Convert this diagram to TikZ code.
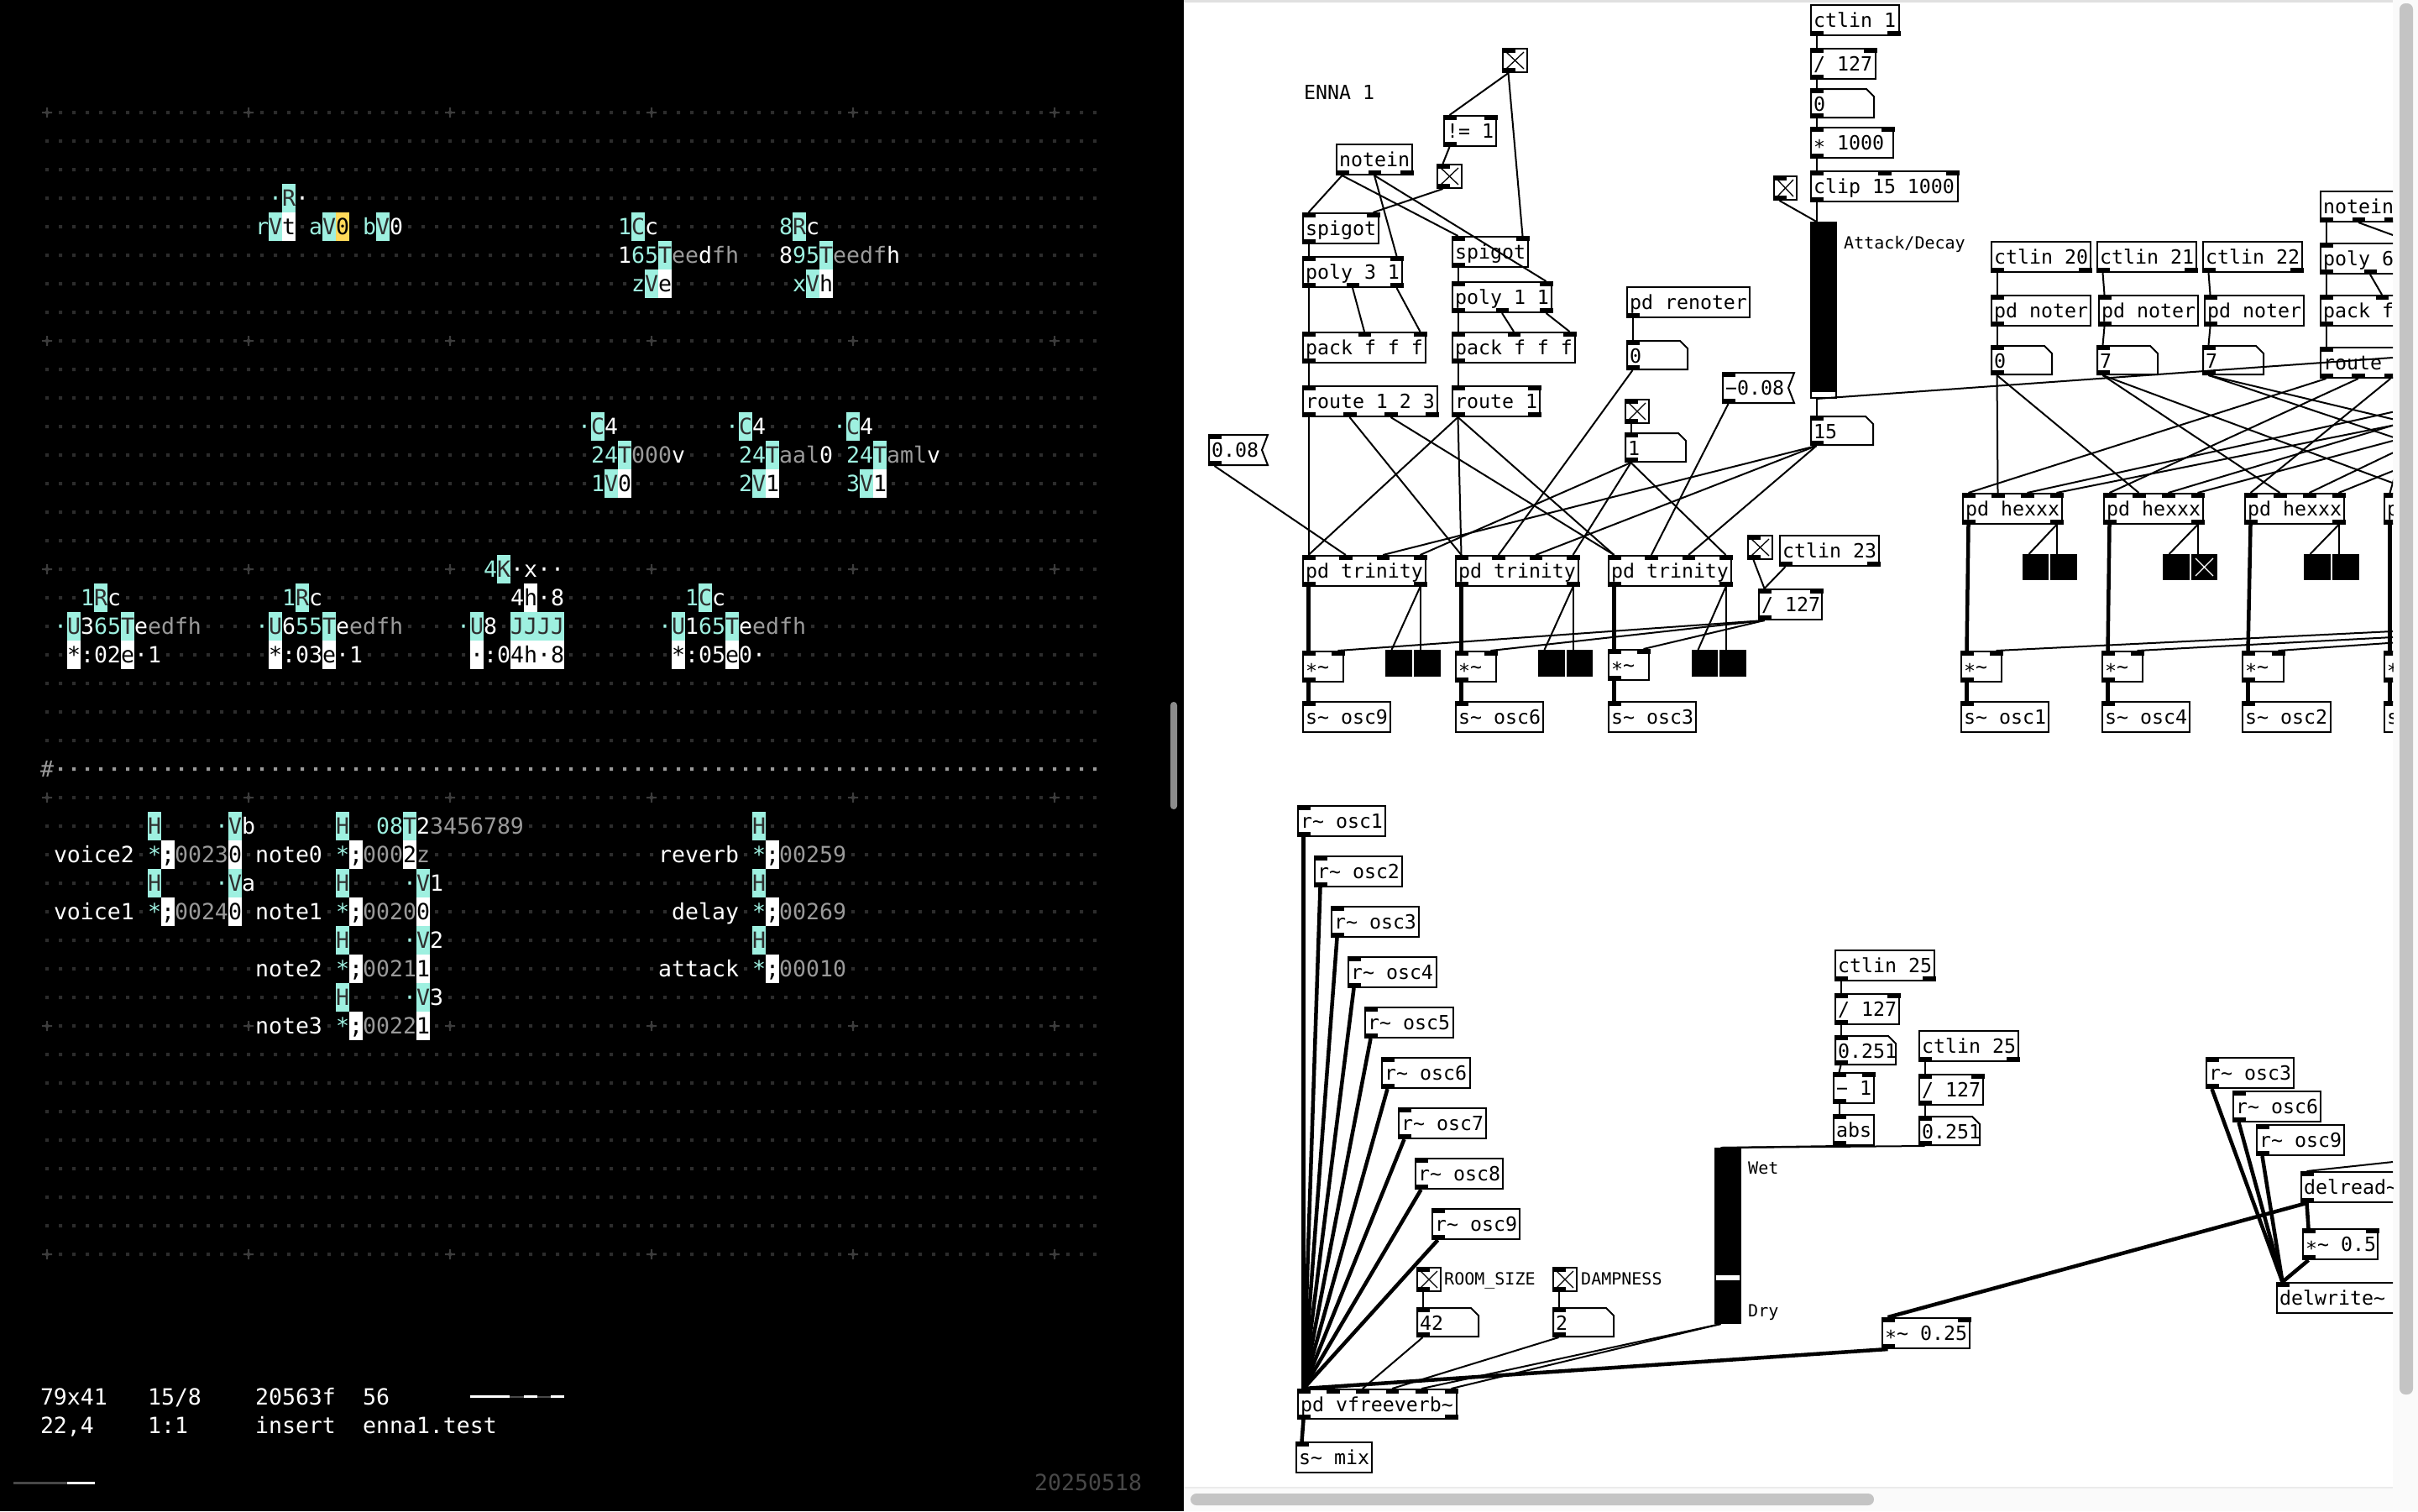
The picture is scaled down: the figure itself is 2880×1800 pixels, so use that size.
\documentclass[tikz,border=0pt]{standalone}
\usepackage{fontspec}
\newfontfamily\orcafont{DejaVu Sans Mono}
\definecolor{orcateal}{HTML}{9EF0E0}
\definecolor{orcadark}{HTML}{2E2E2E}
\definecolor{orcagrey}{HTML}{9A9A9A}
\definecolor{orcayellow}{HTML}{FFD95A}
\definecolor{griddim}{HTML}{2C2C2C}
\definecolor{gridplus}{HTML}{3C3C3C}
\definecolor{orcadate}{HTML}{484848}
\definecolor{barthumb}{HTML}{C4C4C4}
\definecolor{bartrack}{HTML}{FAFAFA}
\newcommand{\wave}{\textasciitilde}
\newcommand{\pdstar}{\raisebox{-5pt}{*}}
% one run of orca cells
\newcommand{\orun}[4]{\node[orcacell,#1] (cell-#2-#3) at (48+16*#2,117+34*#3) {#4};}
% iolets: name, left, top, right, bottom, inlets, outlets
\newcommand{\pdiolets}[7]{%
\ifnum#6>0 \foreach \k in {1,...,#6}{%
\pgfmathsetmacro{\ioX}{#2+(\k-1)*(#4-#2-15)/max(#6-1,1)}
\fill (\ioX,#3) rectangle ++(15.5,6);
\coordinate (#1-i\k) at (\ioX+7.5,#3);}\fi
\ifnum#7>0 \foreach \k in {1,...,#7}{%
\pgfmathsetmacro{\ioX}{#2+(\k-1)*(#4-#2-15)/max(#7-1,1)}
\fill (\ioX,#5-6) rectangle ++(15.5,6);
\coordinate (#1-o\k) at (\ioX+7.5,#5);}\fi}
% object box: name, left, top, right, bottom, text, inlets, outlets
\newcommand{\pdbox}[8]{%
\pgfmathsetlengthmacro{\pdW}{#4-#2-8}
\pgfmathsetlengthmacro{\pdD}{#5-#3-28}
\node[pdtext,draw,text depth=\pdD] (#1) at (#2+1,#3+1) {\makebox[\pdW][l]{#6}};
\pdiolets{#1}{#2}{#3}{#4}{#5}{#7}{#8}}
% number box with the cut corner
\newcommand{\pdnum}[6]{%
\pgfmathsetlengthmacro{\pdW}{#4-#2-8}
\pgfmathsetlengthmacro{\pdD}{#5-#3-28}
\node[pdtext,text depth=\pdD] (#1) at (#2+1,#3+1) {\makebox[\pdW][l]{#6}};
\draw[pdline] (#2+1,#3+1) -- (#4-10,#3+1) -- (#4-1,#3+10) -- (#4-1,#5-1) -- (#2+1,#5-1) -- cycle;
\pdiolets{#1}{#2}{#3}{#4}{#5}{1}{1}}
% flag shaped number
\newcommand{\pdflag}[6]{%
\pgfmathsetlengthmacro{\pdW}{#4-#2-16}
\pgfmathsetlengthmacro{\pdD}{#5-#3-28}
\node[pdtext,text depth=\pdD] (#1) at (#2+1,#3+1) {\makebox[\pdW][l]{#6}};
\draw[pdline] (#2+1,#3+1) -- (#4,#3+1) -- (#4-7,{(#3+#5)/2}) -- (#4,#5-1) -- (#2+1,#5-1) -- cycle;
\pdiolets{#1}{#2}{#3}{#4}{#5}{1}{1}}
% toggle
\newcommand{\pdtog}[5]{%
\node[pdshape,draw,minimum width=#4-#2-2,minimum height=#5-#3-2] (#1) at (#2+1,#3+1) {};
\draw[pdcross] (#2+5,#3+5) -- (#4-5,#5-5) (#2+5,#5-5) -- (#4-5,#3+5);
\pdiolets{#1}{#2}{#3}{#4}{#5}{1}{1}}
% black square
\newcommand{\pdblk}[5]{%
\node[pdshape,fill=black,minimum width=#4-#2,minimum height=#5-#3] (#1) at (#2,#3) {};
\coordinate (#1-i1) at (#2+7.5,#3);}
% slider
\newcommand{\pdslider}[6]{%
\node[pdshape,fill=black,minimum width=#4-#2,minimum height=#5-#3] (#1) at (#2,#3) {};
\fill[white] (#2+2,#6) rectangle (#4-2,#6+6);
\coordinate (#1-i1) at (#2+7.5,#3);
\coordinate (#1-o1) at (#2+7.5,#5);}

\begin{document}
\begin{tikzpicture}[x=1pt,y=-1pt]
\tikzstyle{orcacell}=[anchor=north west,inner sep=0pt,outer sep=0pt,text height=26pt,text depth=8pt,font=\orcafont\fontsize{26.576}{34}\selectfont]
\tikzstyle{ow}=[fill=black,text=white]
\tikzstyle{ot}=[fill=black,text=orcateal]
\tikzstyle{og}=[fill=black,text=orcagrey]
\tikzstyle{obt}=[fill=orcateal,text=orcadark]
\tikzstyle{obw}=[fill=white,text=black]
\tikzstyle{oby}=[fill=orcayellow,text=black]
\tikzstyle{pdtext}=[anchor=north west,inner xsep=3pt,inner ysep=0pt,outer sep=0pt,line width=2pt,text height=26pt,font=\orcafont\fontsize{23.25}{28}\selectfont]
\tikzstyle{pdshape}=[anchor=north west,inner sep=0pt,outer sep=0pt,line width=2pt]
\tikzstyle{pdline}=[line width=2pt,line join=miter]
\tikzstyle{pdcross}=[line width=1.3pt]
\tikzstyle{pdlabel}=[anchor=base west,inner sep=0pt,font=\orcafont\fontsize{20}{24}\selectfont]
\tikzstyle{pdtitle}=[anchor=base west,inner sep=0pt,font=\orcafont\fontsize{23.25}{28}\selectfont]
\tikzstyle{msgwire}=[line width=2pt]
\tikzstyle{sigwire}=[line width=4.5pt]
\useasboundingbox (0,0) rectangle (2880,1800);
%%%%%%%%%%%%%%%%%%%%%%%%%%%%%%%%%%%%%%%%%%%%%%%%%%%%%%%%%%%%%%%%%%%%%%%%%%%%%%%%%%%%%%%%
%% Panes
%%%%%%%%%%%%%%%%%%%%%%%%%%%%%%%%%%%%%%%%%%%%%%%%%%%%%%%%%%%%%%%%%%%%%%%%%%%%%%%%%%%%%%%%
\fill[black] (0,0) rectangle (1410,1800);
\fill[white] (1410,0) rectangle (2880,1800);
\fill[black!12] (1410,0) rectangle (2880,3);
\fill[bartrack] (2850,0) rectangle (2880,1800);
\fill[bartrack] (1410,1771) rectangle (2880,1800);
\fill[black!8] (1410,1771) rectangle (2850,1773);
\fill[barthumb,rounded corners=7pt] (2858,4) rectangle (2874,1661);
\fill[barthumb,rounded corners=7pt] (1418,1779) rectangle (2232,1793);
\fill[black!45,rounded corners=3.9pt] (1394,836) rectangle (1402,964);
%%%%%%%%%%%%%%%%%%%%%%%%%%%%%%%%%%%%%%%%%%%%%%%%%%%%%%%%%%%%%%%%%%%%%%%%%%%%%%%%%%%%%%%%
%% Orca grid
%%%%%%%%%%%%%%%%%%%%%%%%%%%%%%%%%%%%%%%%%%%%%%%%%%%%%%%%%%%%%%%%%%%%%%%%%%%%%%%%%%%%%%%%
\fill[griddim] \foreach \r in {0,...,40} {\foreach \c in {0,...,78} {(54+16*\c,132+34*\r) rectangle ++(4,4)}};
\fill[orcagrey] \foreach \c in {1,...,78} {(54+16*\c,914) rectangle ++(4,4)};
\fill[gridplus] \foreach \r in {0,8,16,24,32,40} {\foreach \c in {0,15,30,45,60,75} {(50+16*\c,133+34*\r) rectangle ++(12,2) (55+16*\c,128+34*\r) rectangle ++(2,12)}};
% operators, top
\orun{ot}{17}{3}{·}
\orun{obt}{18}{3}{R}
\orun{ow}{19}{3}{·}
\orun{ot}{16}{4}{r}
\orun{obt}{17}{4}{V}
\orun{obw}{18}{4}{t}
\orun{ot}{20}{4}{a}
\orun{obt}{21}{4}{V}
\orun{oby}{22}{4}{0}
\orun{ot}{24}{4}{b}
\orun{obt}{25}{4}{V}
\orun{ow}{26}{4}{0}
\orun{ot}{43}{4}{1}
\orun{obt}{44}{4}{C}
\orun{ow}{45}{4}{c}
\orun{ot}{55}{4}{8}
\orun{obt}{56}{4}{R}
\orun{ow}{57}{4}{c}
\orun{ow}{43}{5}{1}
\orun{ot}{44}{5}{65}
\orun{obt}{46}{5}{T}
\orun{og}{47}{5}{ee}
\orun{ow}{49}{5}{d}
\orun{og}{50}{5}{fh}
\orun{ow}{55}{5}{8}
\orun{ot}{56}{5}{95}
\orun{obt}{58}{5}{T}
\orun{og}{59}{5}{eedf}
\orun{ow}{63}{5}{h}
\orun{ot}{44}{6}{z}
\orun{obt}{45}{6}{V}
\orun{obw}{46}{6}{e}
\orun{ot}{56}{6}{x}
\orun{obt}{57}{6}{V}
\orun{obw}{58}{6}{h}
% clock row
\orun{ot}{40}{11}{·}
\orun{obt}{41}{11}{C}
\orun{ow}{42}{11}{4}
\orun{ot}{51}{11}{·}
\orun{obt}{52}{11}{C}
\orun{ow}{53}{11}{4}
\orun{ot}{59}{11}{·}
\orun{obt}{60}{11}{C}
\orun{ow}{61}{11}{4}
\orun{ot}{41}{12}{24}
\orun{obt}{43}{12}{T}
\orun{og}{44}{12}{000}
\orun{ow}{47}{12}{v}
\orun{ot}{52}{12}{24}
\orun{obt}{54}{12}{T}
\orun{og}{55}{12}{aal}
\orun{ow}{58}{12}{0}
\orun{ot}{60}{12}{24}
\orun{obt}{62}{12}{T}
\orun{og}{63}{12}{aml}
\orun{ow}{66}{12}{v}
\orun{ot}{41}{13}{1}
\orun{obt}{42}{13}{V}
\orun{obw}{43}{13}{0}
\orun{ot}{52}{13}{2}
\orun{obt}{53}{13}{V}
\orun{obw}{54}{13}{1}
\orun{ot}{60}{13}{3}
\orun{obt}{61}{13}{V}
\orun{obw}{62}{13}{1}
% midi row
\orun{ot}{33}{16}{4}
\orun{obt}{34}{16}{K}
\orun{ow}{35}{16}{·x··}
\orun{ot}{3}{17}{1}
\orun{obt}{4}{17}{R}
\orun{ow}{5}{17}{c}
\orun{ot}{18}{17}{1}
\orun{obt}{19}{17}{R}
\orun{ow}{20}{17}{c}
\orun{ow}{35}{17}{4}
\orun{obw}{36}{17}{h}
\orun{ow}{37}{17}{·8}
\orun{ot}{48}{17}{1}
\orun{obt}{49}{17}{C}
\orun{ow}{50}{17}{c}
\orun{ot}{1}{18}{·}
\orun{obt}{2}{18}{U}
\orun{ow}{3}{18}{3}
\orun{ot}{4}{18}{65}
\orun{obt}{6}{18}{T}
\orun{ow}{7}{18}{e}
\orun{og}{8}{18}{edfh}
\orun{ot}{16}{18}{·}
\orun{obt}{17}{18}{U}
\orun{ow}{18}{18}{6}
\orun{ot}{19}{18}{55}
\orun{obt}{21}{18}{T}
\orun{ow}{22}{18}{e}
\orun{og}{23}{18}{edfh}
\orun{ot}{31}{18}{·}
\orun{obt}{32}{18}{U}
\orun{ow}{33}{18}{8}
\orun{obt}{35}{18}{JJJJ}
\orun{ot}{46}{18}{·}
\orun{obt}{47}{18}{U}
\orun{ow}{48}{18}{1}
\orun{ot}{49}{18}{65}
\orun{obt}{51}{18}{T}
\orun{ow}{52}{18}{e}
\orun{og}{53}{18}{edfh}
\orun{obw}{2}{19}{*}
\orun{ow}{3}{19}{:02}
\orun{obw}{6}{19}{e}
\orun{ow}{7}{19}{·1}
\orun{obw}{17}{19}{*}
\orun{ow}{18}{19}{:03}
\orun{obw}{21}{19}{e}
\orun{ow}{22}{19}{·1}
\orun{obw}{32}{19}{·}
\orun{ow}{33}{19}{:0}
\orun{obw}{35}{19}{4h·8}
\orun{obw}{47}{19}{*}
\orun{ow}{48}{19}{:05}
\orun{obw}{51}{19}{e}
\orun{ow}{52}{19}{0·}
% comment row
\orun{og}{0}{23}{\#}
% voices and notes
\orun{obt}{8}{25}{H}
\orun{ot}{13}{25}{·}
\orun{obt}{14}{25}{V}
\orun{ow}{15}{25}{b}
\orun{obt}{22}{25}{H}
\orun{ot}{25}{25}{08}
\orun{obt}{27}{25}{T}
\orun{ow}{28}{25}{2}
\orun{og}{29}{25}{3456789}
\orun{obt}{53}{25}{H}
\orun{ow}{1}{26}{voice2}
\orun{ot}{8}{26}{*}
\orun{obw}{9}{26}{;}
\orun{og}{10}{26}{0023}
\orun{obw}{14}{26}{0}
\orun{ow}{16}{26}{note0}
\orun{ot}{22}{26}{*}
\orun{obw}{23}{26}{;}
\orun{og}{24}{26}{000}
\orun{obw}{27}{26}{2}
\orun{og}{28}{26}{z}
\orun{ow}{46}{26}{reverb}
\orun{ot}{53}{26}{*}
\orun{obw}{54}{26}{;}
\orun{og}{55}{26}{00259}
\orun{obt}{8}{27}{H}
\orun{ot}{13}{27}{·}
\orun{obt}{14}{27}{V}
\orun{ow}{15}{27}{a}
\orun{obt}{22}{27}{H}
\orun{ot}{27}{27}{·}
\orun{obt}{28}{27}{V}
\orun{ow}{29}{27}{1}
\orun{obt}{53}{27}{H}
\orun{ow}{1}{28}{voice1}
\orun{ot}{8}{28}{*}
\orun{obw}{9}{28}{;}
\orun{og}{10}{28}{0024}
\orun{obw}{14}{28}{0}
\orun{ow}{16}{28}{note1}
\orun{ot}{22}{28}{*}
\orun{obw}{23}{28}{;}
\orun{og}{24}{28}{0020}
\orun{obw}{28}{28}{0}
\orun{ow}{47}{28}{delay}
\orun{ot}{53}{28}{*}
\orun{obw}{54}{28}{;}
\orun{og}{55}{28}{00269}
\orun{obt}{22}{29}{H}
\orun{ot}{27}{29}{·}
\orun{obt}{28}{29}{V}
\orun{ow}{29}{29}{2}
\orun{obt}{53}{29}{H}
\orun{ow}{16}{30}{note2}
\orun{ot}{22}{30}{*}
\orun{obw}{23}{30}{;}
\orun{og}{24}{30}{0021}
\orun{obw}{28}{30}{1}
\orun{ow}{46}{30}{attack}
\orun{ot}{53}{30}{*}
\orun{obw}{54}{30}{;}
\orun{og}{55}{30}{00010}
\orun{obt}{22}{31}{H}
\orun{ot}{27}{31}{·}
\orun{obt}{28}{31}{V}
\orun{ow}{29}{31}{3}
\orun{ow}{16}{32}{note3}
\orun{ot}{22}{32}{*}
\orun{obw}{23}{32}{;}
\orun{og}{24}{32}{0022}
\orun{obw}{28}{32}{1}
% status lines
\orun{ow}{0}{45}{79x41}
\orun{ow}{8}{45}{15/8}
\orun{ow}{16}{45}{20563f}
\orun{ow}{24}{45}{56}
\orun{ow}{0}{46}{22,4}
\orun{ow}{8}{46}{1:1}
\orun{ow}{16}{46}{insert}
\orun{ow}{24}{46}{enna1.test}
\orun{fill=black,text=orcadate}{74}{48}{20250518}
\fill[orcadate] (560,1663) rectangle (672,1665);
\fill[white] (560,1662) rectangle (607,1665);
\fill[white] (624,1662) rectangle (640,1665);
\fill[white] (656,1662) rectangle (672,1665);
\fill[orcadate] (16,1765) rectangle (80,1768);
\fill[white] (80,1765) rectangle (113,1768);
%%%%%%%%%%%%%%%%%%%%%%%%%%%%%%%%%%%%%%%%%%%%%%%%%%%%%%%%%%%%%%%%%%%%%%%%%%%%%%%%%%%%%%%%
%% Pd patch
%%%%%%%%%%%%%%%%%%%%%%%%%%%%%%%%%%%%%%%%%%%%%%%%%%%%%%%%%%%%%%%%%%%%%%%%%%%%%%%%%%%%%%%%
\begin{scope}
\clip (1410,0) rectangle (2850,1771);
% voice allocation
\node[pdtitle] (titleEnna) at (1553,118) {ENNA 1};
\pdtog{togTop}{1789}{57}{1820}{87}
\pdbox{neqOne}{1719}{137}{1783}{175}{!= 1}{2}{1}
\pdbox{noteinA}{1591}{171}{1683}{209}{notein}{0}{3}
\pdtog{togGate}{1711}{195}{1742}{225}
\pdbox{spigotA}{1551}{253}{1643}{291}{spigot}{2}{1}
\pdbox{spigotB}{1729}{281}{1821}{319}{spigot}{2}{1}
\pdbox{polyA}{1551}{305}{1671}{343}{poly 3 1}{2}{3}
\pdbox{polyB}{1729}{335}{1849}{373}{poly 1 1}{2}{3}
\pdbox{packA}{1551}{395}{1699}{433}{pack f f f}{3}{1}
\pdbox{packB}{1729}{395}{1877}{433}{pack f f f}{3}{1}
\pdbox{routeA}{1551}{459}{1713}{497}{route 1 2 3}{1}{4}
\pdbox{routeB}{1729}{459}{1835}{497}{route 1}{2}{2}
\pdbox{renoter}{1937}{341}{2085}{379}{pd renoter}{0}{1}
\pdnum{numRenoter}{1937}{405}{2011}{441}{0}
\pdflag{flagNeg}{2051}{443}{2137}{481}{−0.08}
\pdflag{flagPos}{1439}{517}{1510}{555}{0.08}
\pdtog{togOne}{1935}{475}{1965}{505}
\pdnum{numOne}{1935}{515}{2009}{551}{1}
% attack and decay
\pdbox{ctlinOne}{2156}{5}{2263}{43}{ctlin 1}{0}{2}
\pdbox{divA}{2156}{57}{2235}{95}{/ 127}{2}{1}
\pdnum{numZero}{2156}{105}{2233}{141}{0}
\pdbox{timesK}{2156}{151}{2256}{189}{\pdstar{} 1000}{2}{1}
\pdbox{clipA}{2156}{203}{2333}{241}{clip 15 1000}{3}{1}
\pdtog{togClip}{2112}{209}{2141}{239}
\pdslider{sliderAttack}{2156}{264}{2188}{475}{467}
\node[pdlabel] (lblAttack) at (2196,296) {Attack/Decay};
\pdnum{numFifteen}{2156}{495}{2232}{531}{15}
% trinity voices
\pdbox{trinityA}{1551}{661}{1699}{699}{pd trinity}{4}{2}
\pdbox{trinityB}{1733}{661}{1881}{699}{pd trinity}{4}{2}
\pdbox{trinityC}{1915}{661}{2063}{699}{pd trinity}{4}{2}
\pdtog{togLevel}{2081}{637}{2112}{667}
\pdbox{ctlinLevel}{2119}{637}{2239}{675}{ctlin 23}{0}{2}
\pdbox{divB}{2094}{701}{2171}{739}{/ 127}{2}{1}
\pdbox{mulA}{1551}{775}{1601}{813}{\pdstar\wave}{2}{1}
\pdbox{mulB}{1733}{775}{1783}{813}{\pdstar\wave}{2}{1}
\pdbox{mulC}{1915}{773}{1965}{811}{\pdstar\wave}{2}{1}
\pdblk{blkA}{1650}{774}{1682}{806}
\pdblk{blkB}{1684}{774}{1716}{806}
\pdblk{blkC}{1832}{774}{1864}{806}
\pdblk{blkD}{1866}{774}{1897}{806}
\pdblk{blkE}{2015}{774}{2046}{806}
\pdblk{blkF}{2048}{774}{2080}{806}
\pdbox{sendNine}{1551}{835}{1657}{873}{s\wave{} osc9}{1}{0}
\pdbox{sendSix}{1733}{835}{1839}{873}{s\wave{} osc6}{1}{0}
\pdbox{sendThree}{1915}{835}{2021}{873}{s\wave{} osc3}{1}{0}
% hexxx voices
\pdbox{ctlinTwenty}{2371}{287}{2491}{325}{ctlin 20}{0}{2}
\pdbox{ctlinTwentyOne}{2497}{287}{2617}{325}{ctlin 21}{0}{2}
\pdbox{ctlinTwentyTwo}{2623}{287}{2743}{325}{ctlin 22}{0}{2}
\pdbox{noterA}{2371}{351}{2491}{389}{pd noter}{1}{1}
\pdbox{noterB}{2499}{351}{2619}{389}{pd noter}{1}{1}
\pdbox{noterC}{2625}{351}{2745}{389}{pd noter}{1}{1}
\pdnum{numNoterA}{2371}{411}{2445}{447}{0}
\pdnum{numNoterB}{2497}{411}{2571}{447}{7}
\pdnum{numNoterC}{2623}{411}{2697}{447}{7}
\pdbox{noteinB}{2763}{227}{2855}{265}{notein}{0}{3}
\pdbox{polyC}{2763}{289}{2883}{327}{poly 6}{2}{3}
\pdbox{packC}{2763}{351}{2911}{389}{pack f}{3}{1}
\pdbox{routeC}{2763}{413}{3008}{451}{route}{1}{7}
\pdbox{hexxxA}{2337}{587}{2457}{625}{pd hexxx}{4}{2}
\pdbox{hexxxB}{2505}{587}{2625}{625}{pd hexxx}{4}{2}
\pdbox{hexxxC}{2673}{587}{2793}{625}{pd hexxx}{4}{2}
\pdbox{hexxxD}{2839}{587}{2959}{625}{p}{4}{2}
\pdblk{blkG}{2409}{660}{2440}{691}
\pdblk{blkH}{2442}{660}{2474}{691}
\pdblk{blkI}{2576}{660}{2608}{691}
\pdblk{blkJ}{2610}{660}{2641}{691}
\draw[white,pdcross] (2615,665) -- (2636,686) (2615,686) -- (2636,665);
\pdblk{blkK}{2744}{660}{2776}{691}
\pdblk{blkL}{2778}{660}{2810}{691}
\pdbox{mulD}{2335}{775}{2385}{813}{\pdstar\wave}{2}{1}
\pdbox{mulE}{2503}{775}{2553}{813}{\pdstar\wave}{2}{1}
\pdbox{mulF}{2670}{775}{2721}{813}{\pdstar\wave}{2}{1}
\pdbox{mulG}{2839}{775}{2889}{813}{\pdstar}{2}{1}
\pdbox{sendOne}{2335}{835}{2441}{873}{s\wave{} osc1}{1}{0}
\pdbox{sendFour}{2503}{835}{2609}{873}{s\wave{} osc4}{1}{0}
\pdbox{sendTwo}{2670}{835}{2777}{873}{s\wave{} osc2}{1}{0}
\pdbox{sendLast}{2839}{835}{2945}{873}{s}{1}{0}
% reverb
\pdbox{recvOne}{1545}{959}{1651}{997}{r\wave{} osc1}{1}{1}
\pdbox{recvTwo}{1565}{1019}{1671}{1057}{r\wave{} osc2}{1}{1}
\pdbox{recvThree}{1585}{1079}{1691}{1117}{r\wave{} osc3}{1}{1}
\pdbox{recvFour}{1605}{1139}{1712}{1177}{r\wave{} osc4}{1}{1}
\pdbox{recvFive}{1625}{1199}{1732}{1237}{r\wave{} osc5}{1}{1}
\pdbox{recvSix}{1645}{1259}{1752}{1297}{r\wave{} osc6}{1}{1}
\pdbox{recvSeven}{1665}{1319}{1771}{1357}{r\wave{} osc7}{1}{1}
\pdbox{recvEight}{1685}{1379}{1791}{1417}{r\wave{} osc8}{1}{1}
\pdbox{recvNine}{1705}{1439}{1811}{1477}{r\wave{} osc9}{1}{1}
\pdtog{togRoom}{1687}{1509}{1717}{1539}
\node[pdlabel] (lblRoom) at (1720,1530) {ROOM\_SIZE};
\pdtog{togDamp}{1849}{1509}{1879}{1539}
\node[pdlabel] (lblDamp) at (1883,1530) {DAMPNESS};
\pdnum{numRoom}{1687}{1557}{1762}{1593}{42}
\pdnum{numDamp}{1849}{1557}{1923}{1593}{2}
\pdbox{freeverb}{1545}{1654}{1736}{1691}{pd vfreeverb\wave}{6}{2}
\pdbox{sendMix}{1543}{1717}{1635}{1755}{s\wave{} mix}{1}{0}
\pdbox{ctlinWetA}{2185}{1131}{2305}{1169}{ctlin 25}{0}{2}
\pdbox{divWetA}{2185}{1183}{2263}{1221}{/ 127}{2}{1}
\pdnum{numWetA}{2185}{1233}{2259}{1269}{0.251}
\pdbox{minusOne}{2183}{1277}{2233}{1315}{− 1}{2}{1}
\pdbox{absWet}{2183}{1327}{2233}{1365}{abs}{1}{1}
\pdbox{ctlinWetB}{2285}{1227}{2405}{1265}{ctlin 25}{0}{2}
\pdbox{divWetB}{2285}{1279}{2363}{1317}{/ 127}{2}{1}
\pdnum{numWetB}{2285}{1329}{2359}{1365}{0.251}
\pdslider{sliderWet}{2042}{1367}{2074}{1577}{1519}
\node[pdlabel] (lblWet) at (2082,1398) {Wet};
\node[pdlabel] (lblDry) at (2082,1568) {Dry};
\pdbox{mulDry}{2241}{1569}{2347}{1607}{\pdstar\wave{} 0.25}{2}{1}
% delay
\pdbox{recvDelA}{2627}{1259}{2733}{1297}{r\wave{} osc3}{1}{1}
\pdbox{recvDelB}{2659}{1299}{2765}{1337}{r\wave{} osc6}{1}{1}
\pdbox{recvDelC}{2687}{1339}{2793}{1377}{r\wave{} osc9}{1}{1}
\pdbox{delread}{2740}{1395}{2900}{1433}{delread\wave}{1}{1}
\pdbox{mulHalf}{2742}{1463}{2833}{1501}{\pdstar\wave{} 0.5}{2}{1}
\pdbox{delwrite}{2711}{1527}{2900}{1565}{delwrite\wave}{1}{0}
%%%%%%%%%%%%%%%%%%%%%%%%%%%%%%%%%%%%%%%%%%%%%%%%%%%%%%%%%%%%%%%%%%%%%%%%%%%%%%%%%%%%%%%%
%%% Draw connections
%%%%%%%%%%%%%%%%%%%%%%%%%%%%%%%%%%%%%%%%%%%%%%%%%%%%%%%%%%%%%%%%%%%%%%%%%%%%%%%%%%%%%%%%
% free ends past the pane edge
\coordinate (offAttack) at (2850,426);
\coordinate (offNoteR) at (2850,280);
\coordinate (offHexA3) at (2850,490.7);
\coordinate (offHexA4) at (2850,506.7);
\coordinate (offHexB3) at (2850,506.7);
\coordinate (offHexB4) at (2850,525);
\coordinate (offHexC3) at (2850,539.3);
\coordinate (offHexC4) at (2850,561);
\coordinate (offNoteE) at (2850,499.3);
\coordinate (offNoteF) at (2850,520.7);
\coordinate (offLevelD) at (2850,752);
\coordinate (offLevelE) at (2850,759);
\coordinate (offLevelF) at (2850,765.6);
\coordinate (offDelay) at (2850,1384);
% voice allocation
\draw[msgwire] (togTop-o1) -- (neqOne-i1);
\draw[msgwire] (togTop-o1) -- (spigotB-i2);
\draw[msgwire] (neqOne-o1) -- (togGate-i1);
\draw[msgwire] (togGate-o1) -- (spigotA-i2);
\draw[msgwire] (noteinA-o1) -- (spigotA-i1);
\draw[msgwire] (noteinA-o1) -- (spigotB-i1);
\draw[msgwire] (noteinA-o2) -- (polyA-i2);
\draw[msgwire] (noteinA-o2) -- (polyB-i2);
\draw[msgwire] (spigotA-o1) -- (polyA-i1);
\draw[msgwire] (spigotB-o1) -- (polyB-i1);
\draw[msgwire] (polyA-o1) -- (packA-i1);
\draw[msgwire] (polyA-o2) -- (packA-i2);
\draw[msgwire] (polyA-o3) -- (packA-i3);
\draw[msgwire] (polyB-o1) -- (packB-i1);
\draw[msgwire] (polyB-o2) -- (packB-i2);
\draw[msgwire] (polyB-o3) -- (packB-i3);
\draw[msgwire] (packA-o1) -- (routeA-i1);
\draw[msgwire] (packB-o1) -- (routeB-i1);
\draw[msgwire] (routeA-o1) -- (trinityA-i1);
\draw[msgwire] (routeA-o2) -- (trinityB-i1);
\draw[msgwire] (routeA-o3) -- (trinityC-i1);
\draw[msgwire] (routeB-o1) -- (trinityA-i1);
\draw[msgwire] (routeB-o1) -- (trinityB-i1);
\draw[msgwire] (routeB-o1) -- (trinityC-i1);
\draw[msgwire] (flagPos-o1) -- (trinityA-i2);
\draw[msgwire] (renoter-o1) -- (numRenoter-i1);
\draw[msgwire] (numRenoter-o1) -- (trinityB-i2);
\draw[msgwire] (flagNeg-o1) -- (trinityC-i2);
\draw[msgwire] (togOne-o1) -- (numOne-i1);
\draw[msgwire] (numOne-o1) -- (trinityA-i4);
\draw[msgwire] (numOne-o1) -- (trinityB-i4);
\draw[msgwire] (numOne-o1) -- (trinityC-i4);
% attack and decay
\draw[msgwire] (ctlinOne-o1) -- (divA-i1);
\draw[msgwire] (divA-o1) -- (numZero-i1);
\draw[msgwire] (numZero-o1) -- (timesK-i1);
\draw[msgwire] (timesK-o1) -- (clipA-i1);
\draw[msgwire] (clipA-o1) -- (sliderAttack-i1);
\draw[msgwire] (togClip-o1) -- (sliderAttack-i1);
\draw[msgwire] (sliderAttack-o1) -- (numFifteen-i1);
\draw[msgwire] (sliderAttack-o1) -- (offAttack);
\draw[msgwire] (numFifteen-o1) -- (trinityA-i3);
\draw[msgwire] (numFifteen-o1) -- (trinityB-i3);
\draw[msgwire] (numFifteen-o1) -- (trinityC-i3);
% trinity voices
\draw[sigwire] (trinityA-o1) -- (mulA-i1);
\draw[sigwire] (trinityB-o1) -- (mulB-i1);
\draw[sigwire] (trinityC-o1) -- (mulC-i1);
\draw[msgwire] (trinityA-o2) -- (blkA-i1);
\draw[msgwire] (trinityA-o2) -- (blkB-i1);
\draw[msgwire] (trinityB-o2) -- (blkC-i1);
\draw[msgwire] (trinityB-o2) -- (blkD-i1);
\draw[msgwire] (trinityC-o2) -- (blkE-i1);
\draw[msgwire] (trinityC-o2) -- (blkF-i1);
\draw[msgwire] (togLevel-o1) -- (divB-i1);
\draw[msgwire] (ctlinLevel-o1) -- (divB-i1);
\draw[msgwire] (divB-o1) -- (mulA-i2);
\draw[msgwire] (divB-o1) -- (mulB-i2);
\draw[msgwire] (divB-o1) -- (mulC-i2);
\draw[sigwire] (mulA-o1) -- (sendNine-i1);
\draw[sigwire] (mulB-o1) -- (sendSix-i1);
\draw[sigwire] (mulC-o1) -- (sendThree-i1);
% hexxx voices
\draw[msgwire] (ctlinTwenty-o1) -- (noterA-i1);
\draw[msgwire] (ctlinTwentyOne-o1) -- (noterB-i1);
\draw[msgwire] (ctlinTwentyTwo-o1) -- (noterC-i1);
\draw[msgwire] (noterA-o1) -- (numNoterA-i1);
\draw[msgwire] (noterB-o1) -- (numNoterB-i1);
\draw[msgwire] (noterC-o1) -- (numNoterC-i1);
\draw[msgwire] (numNoterA-o1) -- (hexxxA-i2);
\draw[msgwire] (numNoterA-o1) -- (hexxxB-i2);
\draw[msgwire] (numNoterB-o1) -- (hexxxC-i2);
\draw[msgwire] (numNoterB-o1) -- (hexxxD-i2);
\draw[msgwire] (numNoterC-o1) -- (offNoteE);
\draw[msgwire] (numNoterC-o1) -- (offNoteF);
\draw[msgwire] (noteinB-o1) -- (polyC-i1);
\draw[msgwire] (noteinB-o2) -- (offNoteR);
\draw[msgwire] (polyC-o1) -- (packC-i1);
\draw[msgwire] (polyC-o2) -- (packC-i2);
\draw[msgwire] (packC-o1) -- (routeC-i1);
\draw[msgwire] (routeC-o1) -- (hexxxA-i1);
\draw[msgwire] (routeC-o2) -- (hexxxB-i1);
\draw[msgwire] (routeC-o3) -- (hexxxC-i1);
\draw[msgwire] (routeC-o4) -- (hexxxD-i1);
\draw[msgwire] (hexxxA-i3) -- (offHexA3);
\draw[msgwire] (hexxxA-i4) -- (offHexA4);
\draw[msgwire] (hexxxB-i3) -- (offHexB3);
\draw[msgwire] (hexxxB-i4) -- (offHexB4);
\draw[msgwire] (hexxxC-i3) -- (offHexC3);
\draw[msgwire] (hexxxC-i4) -- (offHexC4);
\draw[sigwire] (hexxxA-o1) -- (mulD-i1);
\draw[sigwire] (hexxxB-o1) -- (mulE-i1);
\draw[sigwire] (hexxxC-o1) -- (mulF-i1);
\draw[sigwire] (hexxxD-o1) -- (mulG-i1);
\draw[msgwire] (hexxxA-o2) -- (blkG-i1);
\draw[msgwire] (hexxxA-o2) -- (blkH-i1);
\draw[msgwire] (hexxxB-o2) -- (blkI-i1);
\draw[msgwire] (hexxxB-o2) -- (blkJ-i1);
\draw[msgwire] (hexxxC-o2) -- (blkK-i1);
\draw[msgwire] (hexxxC-o2) -- (blkL-i1);
\draw[msgwire] (mulD-i2) -- (offLevelD);
\draw[msgwire] (mulE-i2) -- (offLevelE);
\draw[msgwire] (mulF-i2) -- (offLevelF);
\draw[sigwire] (mulD-o1) -- (sendOne-i1);
\draw[sigwire] (mulE-o1) -- (sendFour-i1);
\draw[sigwire] (mulF-o1) -- (sendTwo-i1);
\draw[sigwire] (mulG-o1) -- (sendLast-i1);
% reverb
\draw[sigwire] (recvOne-o1) -- (freeverb-i1);
\draw[sigwire] (recvTwo-o1) -- (freeverb-i1);
\draw[sigwire] (recvThree-o1) -- (freeverb-i1);
\draw[sigwire] (recvFour-o1) -- (freeverb-i1);
\draw[sigwire] (recvFive-o1) -- (freeverb-i1);
\draw[sigwire] (recvSix-o1) -- (freeverb-i1);
\draw[sigwire] (recvSeven-o1) -- (freeverb-i1);
\draw[sigwire] (recvEight-o1) -- (freeverb-i1);
\draw[sigwire] (recvNine-o1) -- (freeverb-i1);
\draw[msgwire] (togRoom-o1) -- (numRoom-i1);
\draw[msgwire] (togDamp-o1) -- (numDamp-i1);
\draw[msgwire] (numRoom-o1) -- (freeverb-i3);
\draw[msgwire] (numDamp-o1) -- (freeverb-i4);
\draw[msgwire] (sliderWet-o1) -- (freeverb-i5);
\draw[msgwire] (sliderWet-o1) -- (freeverb-i6);
\draw[sigwire] (mulDry-o1) -- (freeverb-i1);
\draw[sigwire] (freeverb-o1) -- (sendMix-i1);
\draw[msgwire] (ctlinWetA-o1) -- (divWetA-i1);
\draw[msgwire] (divWetA-o1) -- (numWetA-i1);
\draw[msgwire] (numWetA-o1) -- (minusOne-i1);
\draw[msgwire] (minusOne-o1) -- (absWet-i1);
\draw[msgwire] (absWet-o1) -- (sliderWet-i1);
\draw[msgwire] (ctlinWetB-o1) -- (divWetB-i1);
\draw[msgwire] (divWetB-o1) -- (numWetB-i1);
\draw[msgwire] (numWetB-o1) -- (sliderWet-i1);
% delay
\draw[sigwire] (recvDelA-o1) -- (delwrite-i1);
\draw[sigwire] (recvDelB-o1) -- (delwrite-i1);
\draw[sigwire] (recvDelC-o1) -- (delwrite-i1);
\draw[sigwire] (delread-o1) -- (mulHalf-i1);
\draw[sigwire] (delread-o1) -- (mulDry-i1);
\draw[sigwire] (mulHalf-o1) -- (delwrite-i1);
\draw[msgwire] (delread-i1) -- (offDelay);
\end{scope}
\end{tikzpicture}
\end{document}
